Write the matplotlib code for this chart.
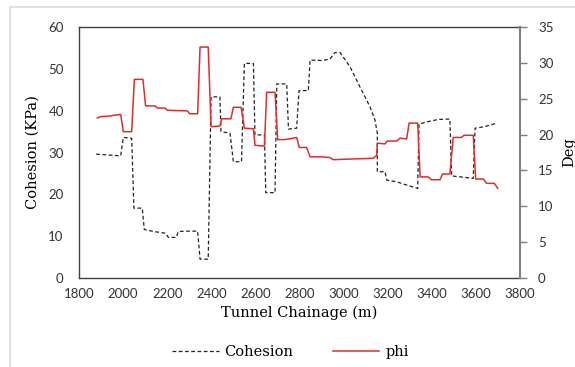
import matplotlib
matplotlib.use('Agg')
import matplotlib.pyplot as plt
from matplotlib.patches import Rectangle

# Chainage (m) and cohesion (KPa) along the tunnel
coh_chainage = [1878, 1989, 2001, 2039, 2049, 2087, 2096, 2140, 2193, 2205, 2241, 2250,
                2281, 2338, 2349, 2386, 2399, 2439, 2444, 2485, 2500, 2537, 2550, 2591,
                2598, 2641, 2647, 2689, 2697, 2742, 2750, 2787, 2798, 2840, 2848, 2900,
                2938, 2961, 2984, 3029, 3074, 3120, 3142, 3153, 3153, 3188, 3196, 3241,
                3263, 3293, 3336, 3342, 3384, 3429, 3482, 3490, 3543, 3588, 3596, 3641,
                3694]
cohesion = [29.6, 29.2, 33.6, 33.4, 16.7, 16.7, 11.6, 11.1, 10.7, 9.7, 9.7, 11.1,
            11.2, 11.2, 4.5, 4.5, 43.3, 43.3, 35.0, 34.6, 27.8, 27.8, 51.3, 51.3,
            34.2, 34.2, 20.4, 20.4, 46.4, 46.4, 35.6, 35.8, 44.8, 44.8, 52.1, 52.0,
            52.3, 53.9, 53.9, 50.5, 45.7, 40.9, 37.8, 34.6, 25.4, 25.4, 23.4, 23.0,
            22.6, 22.1, 21.4, 36.8, 37.4, 37.9, 38.0, 24.4, 24.1, 23.8, 35.8, 36.2,
            37.0]

# Chainage (m) and friction angle phi (deg)
phi_chainage = [1883, 1898, 1944, 1959, 1989, 2001, 2039, 2051, 2090, 2102, 2145, 2155,
                2190, 2200, 2291, 2303, 2338, 2349, 2386, 2399, 2439, 2447, 2489, 2500,
                2535, 2550, 2591, 2598, 2641, 2651, 2689, 2701, 2734, 2787, 2799, 2832,
                2848, 2893, 2938, 2953, 3135, 3150, 3153, 3188, 3198, 3241, 3256, 3286,
                3297, 3336, 3347, 3384, 3399, 3437, 3449, 3482, 3497, 3535, 3546, 3588,
                3599, 3634, 3649, 3684, 3699]
phi = [22.3, 22.5, 22.6, 22.7, 22.8, 20.4, 20.4, 27.7, 27.7, 24.0, 24.0, 23.7,
       23.7, 23.4, 23.3, 22.9, 22.9, 32.2, 32.2, 21.1, 21.2, 22.2, 22.2, 23.8,
       23.8, 20.9, 20.8, 18.5, 18.4, 25.9, 25.9, 19.3, 19.3, 19.6, 18.2, 18.2,
       16.9, 16.9, 16.8, 16.5, 16.7, 17.1, 18.8, 18.7, 19.1, 19.1, 19.5, 19.4,
       21.6, 21.6, 14.1, 14.1, 13.7, 13.7, 14.5, 14.5, 19.6, 19.6, 19.9, 19.9,
       13.8, 13.8, 13.2, 13.2, 12.5]

x_ticks = list(range(1800, 4000, 200))
coh_ticks = list(range(0, 70, 10))
phi_ticks = list(range(0, 40, 5))

tick_font = 'Lato'
label_font = 'DejaVu Serif'

fig = plt.figure(figsize=(5.75, 3.67), dpi=100)
ax = fig.add_axes([79 / 575, 1 - 278 / 367, 441 / 575, 251 / 367])

# chart area outline
fig.patches.append(Rectangle((10 / 575, -0.1), 1.2, 1.1 - 7 / 367, transform=fig.transFigure,
                             fill=False, edgecolor='#d9d9d9', linewidth=1.2))

l1, = ax.plot(coh_chainage, cohesion, color='#222222', linewidth=0.9,
              linestyle=(0, (3, 2)), label='Cohesion')
ax.set_xlim(1800, 3800)
ax.set_ylim(0, 60)
ax.set_xticks(x_ticks)
ax.set_yticks(coh_ticks)
ax.tick_params(axis='both', length=0, labelsize=9.5)
ax.tick_params(axis='y', pad=11)
ax.tick_params(axis='x', pad=7)
for lab in ax.get_xticklabels() + ax.get_yticklabels():
    lab.set_fontfamily(tick_font)
    lab.set_color('#333333')
ax.set_xlabel('Tunnel Chainage (m)', fontfamily=label_font, fontsize=10.5, labelpad=4)
ax.set_ylabel('Cohesion (KPa)', fontfamily=label_font, fontsize=10.5, labelpad=6)
for s in ['left', 'bottom', 'top']:
    ax.spines[s].set_color('#404040')
    ax.spines[s].set_linewidth(1.0)
ax.spines['right'].set_visible(False)

ax2 = ax.twinx()
l2, = ax2.plot(phi_chainage, phi, color='#e32b2b', linewidth=1.1, label='phi')
ax2.set_ylim(0, 35)
ax2.set_yticks(phi_ticks)
ax2.tick_params(axis='y', length=5, width=1, color='#808080', labelsize=9.5, pad=8)
for lab in ax2.get_yticklabels():
    lab.set_fontfamily(tick_font)
    lab.set_color('#333333')
ax2.set_ylabel('Deg', fontfamily=label_font, fontsize=10.5, labelpad=6)
for s in ['left', 'bottom', 'top']:
    ax2.spines[s].set_visible(False)
ax2.spines['right'].set_color('#808080')
ax2.spines['right'].set_linewidth(1.5)

fig.legend(handles=[l1, l2], loc='center', bbox_to_anchor=(0.505, 0.041), ncol=2,
           frameon=False, handlelength=3.2, columnspacing=2.7, handletextpad=0.4,
           prop={'family': label_font, 'size': 10.5})

fig.savefig('out.png', dpi=100)
